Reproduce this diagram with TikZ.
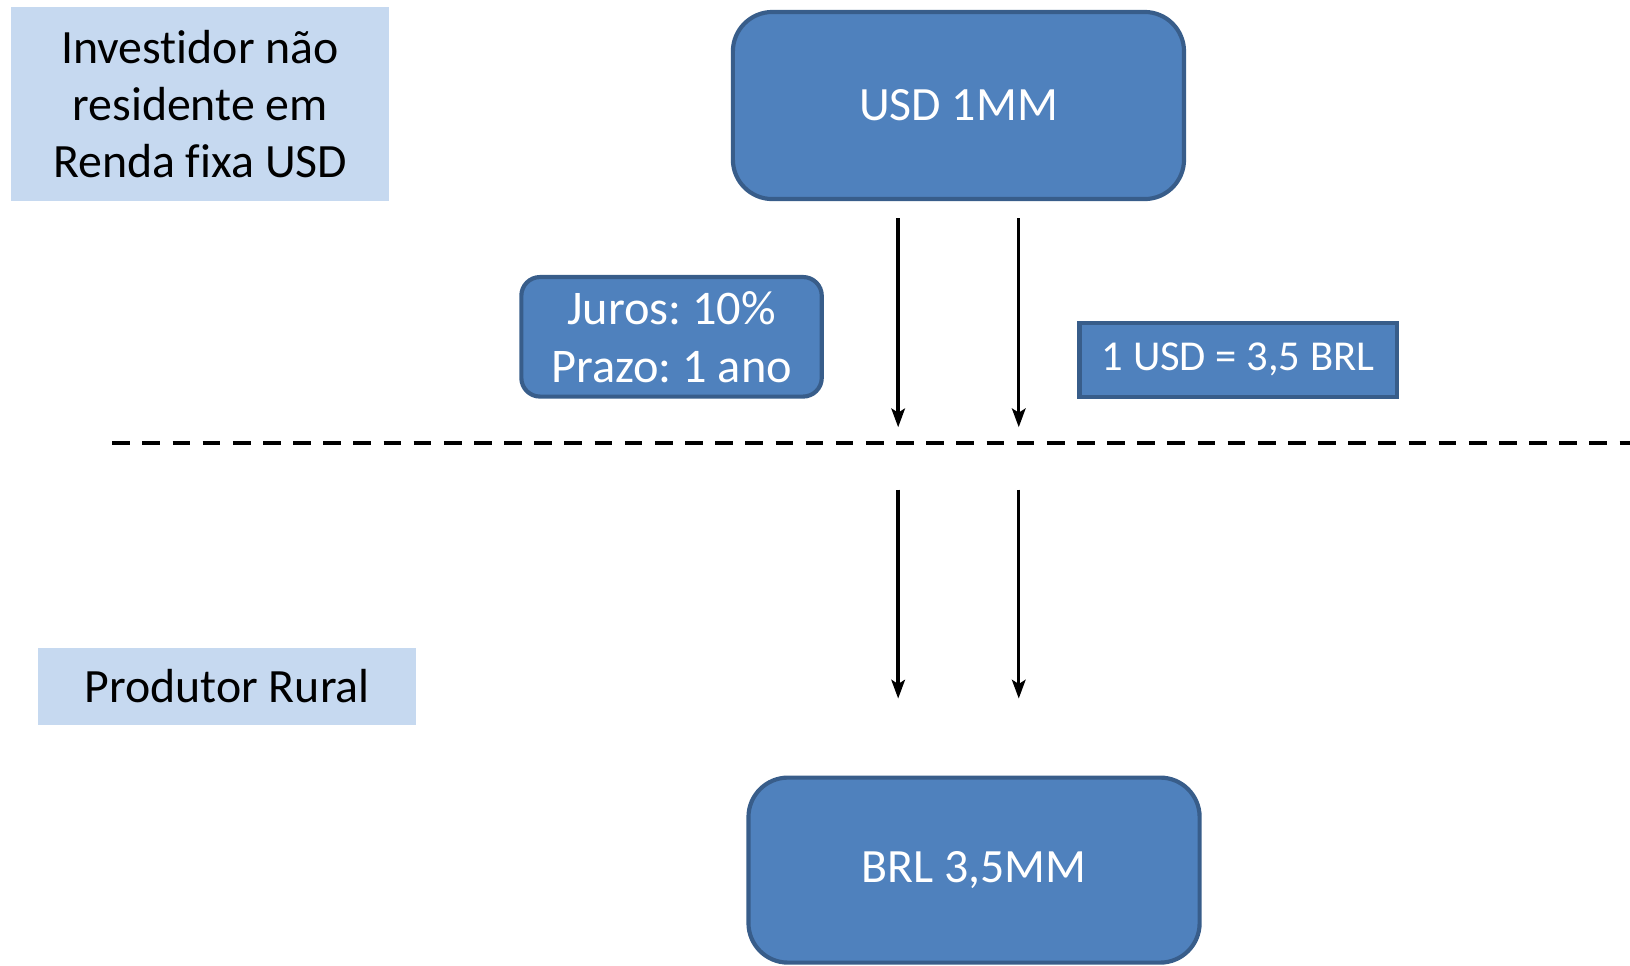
\documentclass[tikz,border=0pt]{standalone}
\usepackage{fontspec}
\setmainfont{Carlito}[Ligatures=NoCommon]
\usetikzlibrary{arrows.meta}
\definecolor{boxblue}{HTML}{4F81BD}
\definecolor{boxedge}{HTML}{385D8A}
\definecolor{lightblue}{HTML}{C6D9F0}
\frenchspacing
\begin{document}
\begin{tikzpicture}[x=1pt,y=-1pt,
  bigbox/.style={draw=boxedge, line width=4pt, fill=boxblue, rounded corners=38pt, text=white,
    minimum width=434pt, minimum height=180pt, inner sep=0pt, font=\fontsize{46}{55}\selectfont},
  midbox/.style={draw=boxedge, line width=4pt, fill=boxblue, rounded corners=18pt, text=white,
    minimum width=289pt, minimum height=115pt, inner sep=0pt, align=center, font=\fontsize{46.5}{56}\selectfont},
  rate/.style={draw=boxedge, line width=4pt, fill=boxblue, text=white,
    minimum width=305pt, minimum height=71pt, inner sep=0pt, font=\fontsize{41}{48}\selectfont},
  lbl/.style={fill=lightblue, text=black, inner sep=0pt, align=center, font=\fontsize{46}{55}\selectfont},
  flow/.style={line width=3.3pt, -{Stealth[length=18pt,width=13pt,inset=4pt]}}
]
\useasboundingbox (0,0) rectangle (1568,929);
\node[lbl, minimum width=363pt, minimum height=186pt] (inv) at (192.5,100) {Investidor não\\residente em\\Renda fixa USD};
\node[lbl, minimum width=363pt, minimum height=74pt] (prod) at (218.5,660) {Produtor Rural};
\node[bigbox] (usd) at (922,101.5) {USD 1MM};
\node[bigbox, minimum height=178pt] (brl) at (937,837) {BRL 3,5MM};
\node[midbox] (juros) at (646,324) {Juros: 10\%\\Prazo: 1 ano};
\node[rate] (fx) at (1191,346) {1 USD = 3,5 BRL};
\coordinate (a1s) at (864,210); \coordinate (a1e) at (864,411);
\coordinate (a2s) at (980,210); \coordinate (a2e) at (980,411);
\coordinate (b1s) at (864,471); \coordinate (b1e) at (864,672);
\coordinate (b2s) at (980,471); \coordinate (b2e) at (980,672);
\draw[flow] (a1s) -- (a1e);
\draw[flow] (a2s) -- (a2e);
\draw[flow] (b1s) -- (b1e);
\draw[flow] (b2s) -- (b2e);
\coordinate (dl) at (108,426); \coordinate (dr) at (1580,426);
\draw[line width=3.5pt, dash pattern=on 17pt off 12pt] (dl) -- (dr);
\end{tikzpicture}
\end{document}
